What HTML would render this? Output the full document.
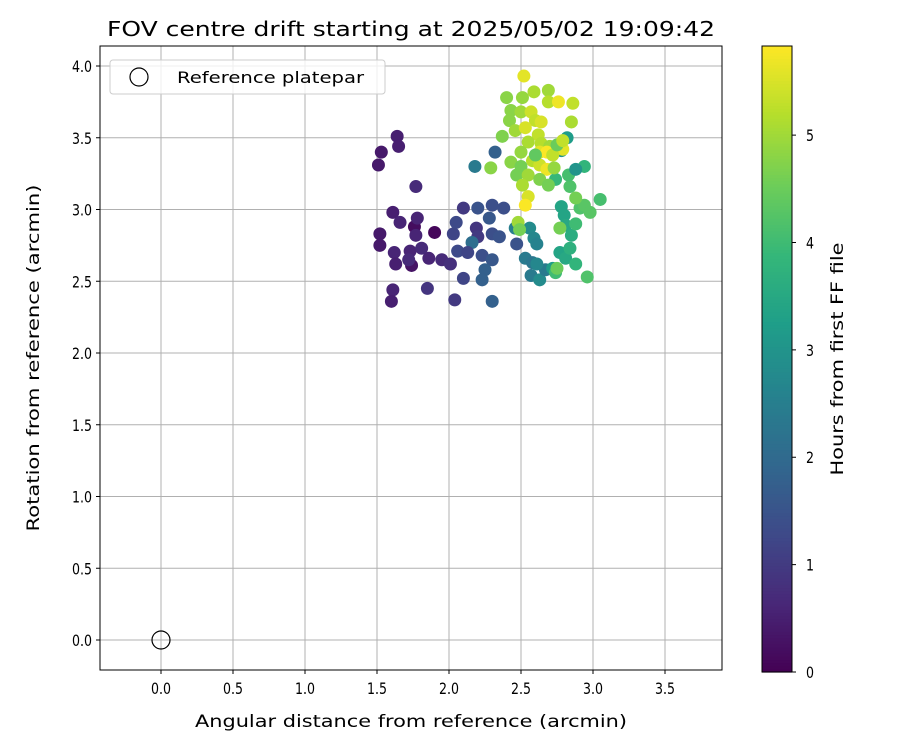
<!DOCTYPE html>
<html><head><meta charset="utf-8"><style>
body{margin:0;background:#fff;}
svg text{font-family:"DejaVu Sans","Liberation Sans",sans-serif;fill:#000;}
</style></head><body>
<svg id="c" width="900" height="750" xmlns="http://www.w3.org/2000/svg"></svg>
<script>
const xs=[1.51,1.53,1.64,1.65,1.77,1.61,1.66,1.52,1.52,1.76,1.90,1.78,1.77,1.62,1.63,1.74,1.73,1.81,1.86,1.95,2.01,1.61,1.60,1.85,1.72,
2.03,2.05,2.10,2.20,2.30,2.38,2.28,2.19,2.20,2.30,2.35,2.16,2.06,2.13,2.23,2.30,2.25,2.23,2.10,2.04,2.30,2.32,2.18,2.46,2.47,
2.56,2.59,2.61,2.53,2.58,2.57,2.63,2.67,2.61,2.72,2.74,2.77,2.81,2.88,2.96,2.78,2.80,2.81,2.85,2.88,2.84,2.91,2.94,3.05,2.98,2.84,2.74,2.83,2.94,2.82,2.78,2.88,
2.52,2.40,2.51,2.59,2.69,2.69,2.76,2.86,2.43,2.50,2.57,2.60,2.64,2.85,2.42,2.46,2.53,2.62,2.37,2.55,2.64,2.70,2.79,2.50,2.63,2.68,2.72,2.58,2.43,2.50,2.63,2.68,2.73,2.47,2.55,2.63,2.69,2.51,2.55,2.53,2.60,2.75,2.79,2.29,2.48,2.49,2.77,2.88,2.75];
const ys=[3.31,3.40,3.51,3.44,3.16,2.98,2.91,2.83,2.75,2.88,2.84,2.94,2.82,2.70,2.62,2.61,2.71,2.73,2.66,2.65,2.62,2.44,2.36,2.45,2.65,
2.83,2.91,3.01,3.01,3.03,3.01,2.94,2.87,2.81,2.83,2.81,2.77,2.71,2.70,2.68,2.65,2.58,2.51,2.52,2.37,2.36,3.40,3.30,2.87,2.76,
2.87,2.80,2.76,2.66,2.63,2.54,2.51,2.58,2.62,2.59,2.56,2.70,2.66,2.62,2.53,3.02,2.96,2.89,2.82,2.90,2.73,3.01,3.03,3.07,2.98,3.16,3.21,3.24,3.30,3.50,3.41,3.28,
3.93,3.78,3.78,3.82,3.83,3.75,3.75,3.74,3.69,3.68,3.68,3.62,3.61,3.61,3.62,3.55,3.57,3.52,3.51,3.47,3.46,3.44,3.42,3.40,3.40,3.40,3.38,3.34,3.33,3.30,3.31,3.28,3.29,3.24,3.24,3.21,3.17,3.17,3.09,3.03,3.38,3.45,3.48,3.29,2.91,2.86,2.87,3.08,2.59];
const hours=[0.4,0.4,0.5,0.5,0.7,0.5,0.6,0.4,0.4,0.2,0.1,0.6,0.6,0.6,0.5,0.3,0.6,0.7,0.6,0.7,0.8,0.6,0.5,0.9,0.7,
1.2,1.3,1.0,1.5,1.4,1.4,1.6,0.9,1.0,1.4,1.5,2.1,1.3,1.2,1.4,1.6,1.8,1.8,1.2,1.0,1.8,1.8,2.4,2.5,1.5,
2.8,2.7,2.6,2.4,2.3,2.4,2.8,2.4,2.7,3.2,4.0,3.4,3.5,3.8,4.2,3.4,3.4,3.5,3.6,4.0,3.7,4.2,4.3,4.1,4.3,4.2,3.9,4.1,3.8,3.2,3.0,3.0,
5.6,4.8,4.9,5.1,5.0,5.2,5.7,5.3,4.8,5.0,5.4,5.3,5.5,5.1,4.8,5.0,5.5,5.3,4.7,5.1,5.2,5.0,5.6,4.9,5.6,5.8,5.3,5.2,4.8,4.6,5.4,5.7,4.9,4.6,5.0,4.7,4.6,5.1,5.5,5.8,4.4,4.5,5.3,4.8,5.0,4.6,4.6,4.6,4.5];
const xTicks=[0,0.5,1,1.5,2,2.5,3,3.5];
const yTicks=[0,0.5,1,1.5,2,2.5,3,3.5,4];
const cTicks=[0,1,2,3,4,5];
const hMax=5.83;

const svg=document.getElementById('c');const NS='http://www.w3.org/2000/svg';
function el(t,a,p){const e=document.createElementNS(NS,t);for(const k in a)e.setAttribute(k,a[k]);(p||svg).appendChild(e);return e;}
const L=100,R=722,T=46,B=670;
const X=v=>161+v*144, Y=v=>640-v*143.5;
const vir=[[68,1,84],[72,40,120],[62,74,137],[49,104,142],[38,130,142],[31,158,137],[53,183,121],[109,205,89],[180,222,44],[253,231,37]];
function col(h){let t=Math.max(0,Math.min(1,h/hMax))*9;let i=Math.min(8,Math.floor(t)),f=t-i;const a=vir[i],b=vir[i+1];return `rgb(${a.map((v,k)=>Math.round(v+(b[k]-v)*f)).join(',')})`;}
xTicks.forEach(v=>{let g=el('line',{x1:X(v),x2:X(v),y1:T,y2:B,stroke:'#b0b0b0','stroke-width':1});
 el('line',{x1:X(v),x2:X(v),y1:B,y2:B+4,stroke:'#000'});
 let t=el('text',{x:X(v),y:B+24,'text-anchor':'middle','font-size':16,textLength:20,lengthAdjust:'spacingAndGlyphs'});t.textContent=v.toFixed(1);});
yTicks.forEach(v=>{let g=el('line',{x1:L,x2:R,y1:Y(v),y2:Y(v),stroke:'#b0b0b0','stroke-width':1});
 el('line',{x1:L-4,x2:L,y1:Y(v),y2:Y(v),stroke:'#000'});
 let t=el('text',{x:L-8,y:Y(v)+6,'text-anchor':'end','font-size':16,textLength:20,lengthAdjust:'spacingAndGlyphs'});t.textContent=v.toFixed(1);});
xs.forEach((x,i)=>{let c=el('circle',{cx:X(x),cy:Y(ys[i]),r:6.5,fill:col(hours[i])});});
let ref=el('circle',{cx:X(0),cy:Y(0),r:9,fill:'none',stroke:'#000','stroke-width':1.2});
let fr=el('rect',{x:L,y:T,width:R-L,height:B-T,fill:'none',stroke:'#000','stroke-width':1});
const lg=el('g',{});
el('rect',{x:110,y:60,width:275,height:34,rx:3,fill:'#fff','fill-opacity':0.8,stroke:'#ccc'},lg);
el('circle',{cx:139,cy:77,r:9,fill:'none',stroke:'#000','stroke-width':1.2},lg);
let lt=el('text',{x:177,y:83,'font-size':16,textLength:187,lengthAdjust:'spacingAndGlyphs'},lg);lt.textContent='Reference platepar';
let tt=el('text',{x:411,y:36,'text-anchor':'middle','font-size':20,textLength:608,lengthAdjust:'spacingAndGlyphs'});tt.textContent='FOV centre drift starting at 2025/05/02 19:09:42';
let xl=el('text',{x:411,y:727,'text-anchor':'middle','font-size':17,textLength:432,lengthAdjust:'spacingAndGlyphs'});xl.textContent='Angular distance from reference (arcmin)';
let yl=el('text',{x:0,y:0,'text-anchor':'middle','font-size':17,textLength:347,lengthAdjust:'spacingAndGlyphs',transform:'translate(39,358) rotate(-90)'});yl.textContent='Rotation from reference (arcmin)';
const CT=46,CB=672,CL=762,CW=30;const CY=h=>CB-h*(CB-CT)/hMax;
const cb=el('g',{});
for(let i=0;i<200;i++){const h0=i*hMax/200,h1=(i+1)*hMax/200;el('rect',{x:CL,y:CY(h1),width:CW,height:CY(h0)-CY(h1)+0.6,fill:col((h0+h1)/2)},cb);}
el('rect',{x:CL,y:CT,width:CW,height:CB-CT,fill:'none',stroke:'#000'},cb);
cTicks.forEach(v=>{el('line',{x1:CL+CW,x2:CL+CW+4,y1:CY(v),y2:CY(v),stroke:'#000'},cb);let t=el('text',{x:CL+CW+14,y:CY(v)+6,'font-size':16,textLength:8,lengthAdjust:'spacingAndGlyphs'},cb);t.textContent=v;});
let cl=el('text',{x:0,y:0,'text-anchor':'middle','font-size':17,textLength:233,lengthAdjust:'spacingAndGlyphs',transform:'translate(843,359) rotate(-90)'});cl.textContent='Hours from first FF file';
</script>
</body></html>
